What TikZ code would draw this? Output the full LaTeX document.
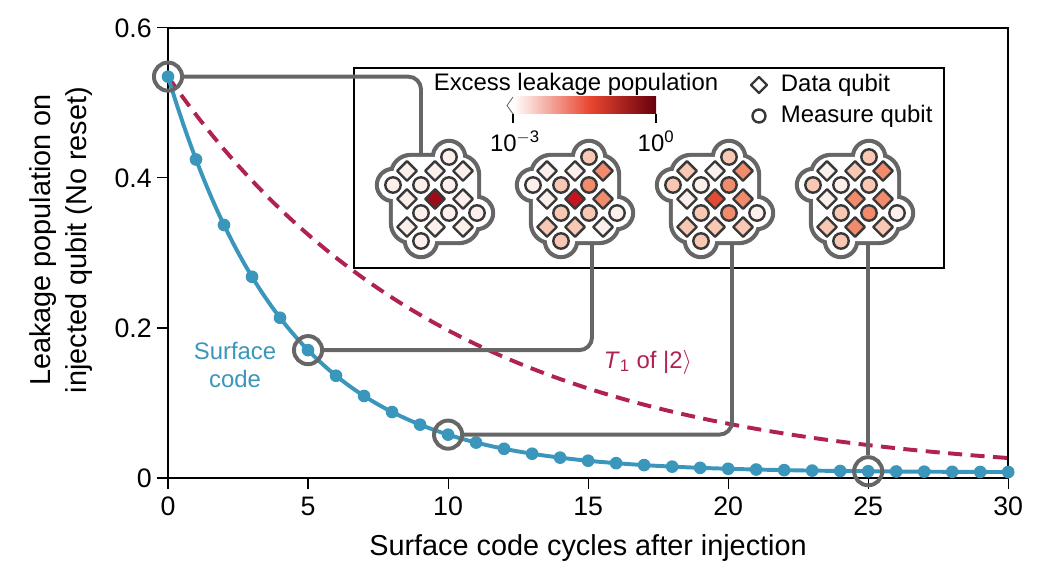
\documentclass[tikz,border=0pt]{standalone}
\usepackage{fontspec}
\setmainfont{Liberation Sans}
\usepackage{tikz}

\definecolor{scblue}{HTML}{3A96BA}
\definecolor{tone}{HTML}{B0224F}
\definecolor{linkgray}{HTML}{666666}
\definecolor{L0}{HTML}{FCF0EC}
\definecolor{L1}{HTML}{F8C8B4}
\definecolor{L2}{HTML}{F08C6C}
\definecolor{L3}{HTML}{E24A36}
\definecolor{L4}{HTML}{C8141E}
\definecolor{L5}{HTML}{9E0C18}
\definecolor{cbmid}{HTML}{E8462F}
\definecolor{cbend}{HTML}{67000D}

\tikzset{
  lbl/.style={font=\fontsize{17}{20}\selectfont},
  big/.style={font=\fontsize{20.5}{25}\selectfont},
  qb/.style={draw=black!78, line width=1.7pt, line join=round},
  conn/.style={draw=linkgray, line width=2.8pt, rounded corners=9pt},
  ring/.style={circle, draw=linkgray, line width=2.8pt, minimum size=20pt, inner sep=0pt},
}

% one d=3 patch: #1 centre, #2 data colours (rows, top first), #3 measure colours
\newcommand{\qpatch}[3]{%
  \begin{scope}[shift={#1}, x=0.35cm, y=0.35cm]
    \fill[linkgray, rounded corners=0.55cm] (-3.3,-3.3) rectangle (3.3,3.3);
    \foreach \bx/\by in {1/3, -3/1, 3/-1, -1/-3}
      \fill[linkgray] (\bx,\by) circle (1.3);
    \fill[white, rounded corners=0.45cm] (-3.0,-3.0) rectangle (3.0,3.0);
    \foreach \bx/\by in {1/3, -3/1, 3/-1, -1/-3}
      \fill[white] (\bx,\by) circle (1.0);
    \foreach \c [count=\k from 0] in {#2} {
      \pgfmathsetmacro\dx{2*(mod(\k,3)-1)}
      \pgfmathsetmacro\dy{-2*(int(\k/3)-1)}
      \draw[qb, fill=\c] (\dx,\dy) ++(0,0.7) -- ++(0.7,-0.7) -- ++(-0.7,-0.7) -- ++(-0.7,0.7) -- cycle;
    }
    \foreach \c [count=\k from 0] in {#3} {
      \pgfmathsetmacro\mx{{1,-3,-1,1,-1,1,3,-1}[\k]}
      \pgfmathsetmacro\my{{3,1,1,1,-1,-1,-1,-3}[\k]}
      \draw[qb, fill=\c] (\mx,\my) circle (0.55);
    }
  \end{scope}}

\begin{document}
\begin{tikzpicture}[x=0.025cm, y=0.025cm]
    \useasboundingbox (0,0) rectangle (1044,564);
    % frame and inset box
    \draw[line width=0.8pt] (168,86) rectangle (1008,536);
    \draw[line width=0.8pt] (354,296) rectangle (944,496);
    \begin{scope}[shift={(168,86)}, x=0.7cm, y=18.75cm]
        \foreach \t in {0, 5, ..., 30} {
            \draw[line width=0.8pt] (\t,0) -- ++(0,-8pt);
            \node[lbl, font=\fontsize{19}{22}\selectfont, below=10pt] at (\t,0) {\t};
        }
        \foreach \v/\s in {0/0, 0.2/0.2, 0.4/0.4, 0.6/0.6} {
            \draw[line width=0.8pt] (0,\v) -- ++(-8pt,0);
            \node[lbl, font=\fontsize{19}{22}\selectfont, left=8pt] at (0,\v) {\s};
        }
        \draw[tone, line width=2.8pt, dash pattern=on 10pt off 6pt]
            plot[domain=0:30, samples=80, smooth] (\x, {0.535*exp(-\x/10)});
        \draw[scblue, line width=2.8pt]
            plot[domain=0:30, samples=120, smooth] (\x, {0.0075+0.5275*exp(-0.235*\x)});
        \foreach \n in {0, ..., 30}
            \fill[scblue] (\n, {0.0075+0.5275*exp(-0.235*\n)}) circle (4.5pt);
        \foreach \n in {0, 5, 10, 25}
            \node[ring] (r\n) at (\n, {0.0075+0.5275*exp(-0.235*\n)}) {};
    \end{scope}
    % connectors to the patches
    \coordinate (p1) at (421,367);
    \coordinate (p2) at (592,367);
    \coordinate (p3) at (732,367);
    \coordinate (p4) at (870,367);
    \draw[conn] (r0.east) -- (p1 |- r0) -- (p1);
    \draw[conn] (r5.east) -- (p2 |- r5) -- (p2);
    \draw[conn] (r10.east) -- (p3 |- r10) -- (p3);
    \draw[conn] (r25.north) -- (r25 |- p4);
    % patches
    \qpatch{(435,365)}{L0,L0,L0,L0,L5,L0,L0,L0,L0}{L0,L0,L0,L0,L0,L0,L0,L0}
    \qpatch{(575,365)}{L0,L0,L2,L0,L4,L2,L1,L1,L0}{L1,L0,L1,L2,L1,L1,L0,L1}
    \qpatch{(715,365)}{L1,L0,L2,L0,L3,L2,L1,L1,L1}{L1,L1,L0,L2,L1,L2,L0,L1}
    \qpatch{(855,365)}{L0,L1,L2,L0,L2,L2,L1,L2,L1}{L1,L1,L0,L1,L1,L2,L0,L1}
    % legend
    \node[lbl] (title) at (576,480) {Excess leakage population};
    \shade[left color=white, right color=cbmid] (513,450) rectangle (590,467);
    \shade[left color=cbmid, right color=cbend] (590,450) rectangle (656,467);
    \draw[black!60, line width=0.6pt] (513,467) -- (507,458.5) -- (513,450);
    \draw[line width=0.8pt] (513,450) -- (513,441);
    \draw[line width=0.8pt] (656,450) -- (656,441);
    \node[lbl] (lo) at (515,423) {10\textsuperscript{$-$3}};
    \node[lbl] (hi) at (656,423) {10\textsuperscript{0}};
    \draw[qb, fill=white] (759,479) ++(0,8) -- ++(8,-8) -- ++(-8,-8) -- ++(-8,8) -- cycle;
    \node[lbl, anchor=west] (dq) at (776,479) {Data qubit};
    \draw[qb, fill=white] (759,448) circle (6.5);
    \node[lbl, anchor=west] (mq) at (776,448) {Measure qubit};
    % curve labels
    \node[lbl, scblue, align=center] (sc) at (235,199) {Surface\\code};
    \node[lbl, tone] (t1) at (648,202) {\textit{T}\textsubscript{1} of |2$\rangle$};
    % axis titles
    \node[big] (xl) at (588,16) {Surface code cycles after injection};
    \node[big, rotate=90, align=center] (yl) at (61,324)
        {Leakage population on\\injected qubit (No reset)};
\end{tikzpicture}
\end{document}
